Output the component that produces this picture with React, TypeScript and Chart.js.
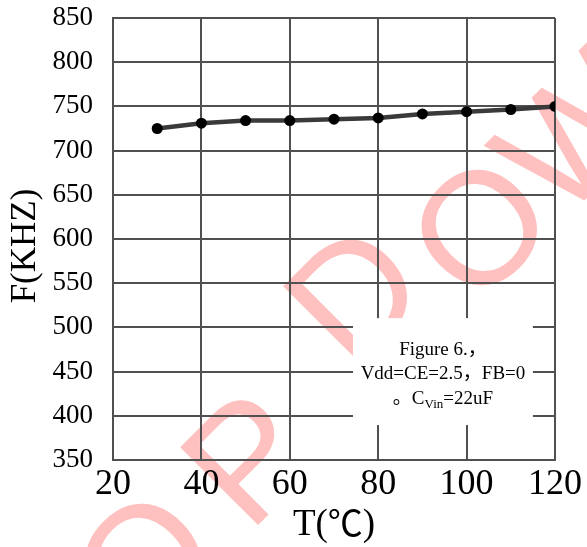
import React, { useEffect, useRef } from "react";
import { Chart, registerables } from "chart.js";

Chart.register(...registerables);

// ---- data ----
const temps = [30, 40, 50, 60, 70, 80, 90, 100, 110, 120];
const freqs = [725, 731, 734, 734, 735.5, 737, 741.5, 744, 746.5, 750];
const xTickValues = [20, 40, 60, 80, 100, 120];
const yTickValues = [350, 400, 450, 500, 550, 600, 650, 700, 750, 800, 850];
const xTitleParts = ["T(", "℃", ")"];
const yTitle = "F(KHZ)";
const noteLine1 = "Figure 6.，";
const noteLine2 = "Vdd=CE=2.5，FB=0";
const noteLine3Pre = "。C";
const noteLine3Sub = "Vin";
const noteLine3Post = "=22uF";
const watermarkLetters = ["O", "P", "D", "O", "W"];

// decoration layout (not data)
const watermarkPos = [
  [142, 560],
  [246, 456],
  [352, 292],
  [478, 226],
  [574, 130],
];

const SERIF = '"Liberation Serif", "Times New Roman", Times, serif';
const SERIF_CJK = '"Liberation Serif", "Noto Sans CJK SC", serif';
const CJK = '"Noto Sans CJK SC", "Noto Sans CJK JP", sans-serif';

const decorPlugin = {
  id: "decor",
  beforeDraw(chart: any) {
    const ctx = chart.ctx as CanvasRenderingContext2D;
    ctx.save();
    ctx.fillStyle = "#ffc0c0";
    const fs = 160;
    ctx.font = `${fs}px "Liberation Sans", Arial, sans-serif`;
    ctx.textAlign = "center";
    ctx.textBaseline = "alphabetic";
    watermarkLetters.forEach((ch, i) => {
      const [px, py] = watermarkPos[i];
      ctx.save();
      ctx.translate(px, py);
      ctx.rotate(-Math.PI / 4);
      ctx.fillText(ch, 0, fs * 0.358);
      ctx.restore();
    });
    ctx.restore();
  },
  afterDraw(chart: any) {
    const ctx = chart.ctx as CanvasRenderingContext2D;
    const area = chart.chartArea;
    const xs = chart.scales.x;
    const ys = chart.scales.y;
    ctx.save();
    // annotation box
    const bx1 = xs.getPixelForValue(74.3);
    const bx2 = xs.getPixelForValue(115);
    const by1 = ys.getPixelForValue(510.5);
    const by2 = ys.getPixelForValue(389.5);
    ctx.fillStyle = "#ffffff";
    ctx.fillRect(bx1, by1, bx2 - bx1, by2 - by1);
    const cx = (bx1 + bx2) / 2;
    ctx.fillStyle = "#000000";
    ctx.textBaseline = "alphabetic";
    ctx.font = `19px ${SERIF_CJK}`;
    ctx.textAlign = "center";
    ctx.fillText(noteLine1, cx, by1 + 37);
    ctx.fillText(noteLine2, cx, by1 + 61);
    // line 3 with subscript
    const subFont = `13px ${SERIF}`;
    const mainFont = `19px ${SERIF_CJK}`;
    ctx.font = mainFont;
    const w1 = ctx.measureText(noteLine3Pre).width;
    const w3 = ctx.measureText(noteLine3Post).width;
    ctx.font = subFont;
    const w2 = ctx.measureText(noteLine3Sub).width;
    let sx = cx - (w1 + w2 + w3) / 2;
    const base3 = by1 + 86;
    ctx.textAlign = "left";
    ctx.font = mainFont;
    ctx.fillText(noteLine3Pre, sx, base3);
    sx += w1;
    ctx.font = subFont;
    ctx.fillText(noteLine3Sub, sx, base3 + 4);
    sx += w2;
    ctx.font = mainFont;
    ctx.fillText(noteLine3Post, sx, base3);

    // x axis title, drawn in pieces so the Latin part stays serif
    const fontsX = [`37px ${SERIF}`, `35px ${CJK}`, `37px ${SERIF}`];
    const widths = xTitleParts.map((p, i) => {
      ctx.font = fontsX[i];
      return ctx.measureText(p).width;
    });
    const total = widths.reduce((a, b) => a + b, 0);
    let tx = (area.left + area.right) / 2 - total / 2;
    ctx.textAlign = "left";
    xTitleParts.forEach((p, i) => {
      ctx.font = fontsX[i];
      ctx.fillText(p, tx, i === 1 ? 536 : 535);
      tx += widths[i];
    });

    // y axis title
    ctx.font = `35px ${SERIF}`;
    ctx.textAlign = "center";
    ctx.translate(35, 246);
    ctx.rotate(-Math.PI / 2);
    ctx.fillText(yTitle, 0, 0);
    ctx.restore();
  },
};

export default function App() {
  const ref = useRef<HTMLCanvasElement | null>(null);

  useEffect(() => {
    if (!ref.current) return;
    const points = temps.map((t, i) => ({ x: t, y: freqs[i] }));
    const gridColor = "#505050";
    const chart = new Chart(ref.current, {
      type: "line",
      data: {
        datasets: [
          {
            data: points,
            borderColor: "#3a3a3a",
            borderWidth: 4.5,
            pointBackgroundColor: "#000000",
            pointBorderColor: "#000000",
            pointRadius: 5.5,
            pointBorderWidth: 0,
            tension: 0,
          },
        ],
      },
      options: {
        responsive: false,
        animation: false,
        events: [],
        layout: { padding: { top: 18, right: 32, left: 0, bottom: 0 } },
        plugins: {
          legend: { display: false },
          tooltip: { enabled: false },
        },
        scales: {
          x: {
            type: "linear",
            min: 20,
            max: 120,
            afterBuildTicks: (s: any) => {
              s.ticks = xTickValues.map((v) => ({ value: v }));
            },
            afterFit: (s: any) => {
              s.height = 87;
              s.paddingLeft = 0;
              s.paddingRight = 0;
            },
            grid: { color: gridColor, lineWidth: 2, drawTicks: false },
            border: { color: gridColor, width: 2 },
            ticks: {
              color: "#000000",
              padding: 3,
              maxRotation: 0,
              autoSkip: false,
              font: { family: SERIF, size: 36 },
            },
          },
          y: {
            type: "linear",
            min: 350,
            max: 850,
            afterBuildTicks: (s: any) => {
              s.ticks = yTickValues.map((v) => ({ value: v }));
            },
            afterFit: (s: any) => {
              s.width = 113;
              s.paddingTop = 0;
              s.paddingBottom = 0;
            },
            grid: { color: gridColor, lineWidth: 2, drawTicks: false },
            border: { color: gridColor, width: 2 },
            ticks: {
              color: "#000000",
              padding: 20,
              autoSkip: false,
              font: { family: SERIF, size: 27 },
            },
          },
        },
      },
      plugins: [decorPlugin],
    } as any);
    return () => {
      chart.destroy();
    };
  }, []);

  return (
    <div style={{ position: "absolute", left: 0, top: 0, width: 587, height: 547, background: "#fff" }}>
      <canvas ref={ref} width={587} height={547} style={{ display: "block" }} />
    </div>
  );
}
